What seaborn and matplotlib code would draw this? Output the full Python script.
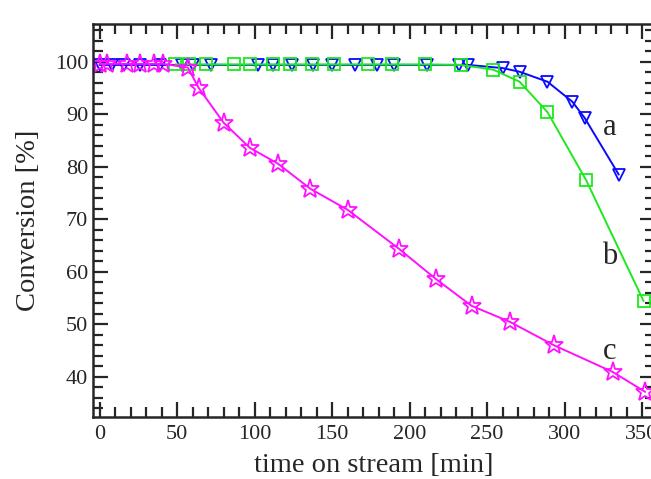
import seaborn as sns
import matplotlib.pyplot as plt
from matplotlib.ticker import MultipleLocator

sns.set_style("ticks")
plt.rcParams['font.family'] = ['Liberation Serif', 'DejaVu Serif']
plt.rcParams['mathtext.fontset'] = 'stix'

# curve a (blue triangles)
time_a = [0, 8, 16, 26, 39, 53, 60, 72, 102, 112, 124, 138, 150, 165, 179, 190, 211, 232, 238,
          260, 271, 289, 305, 313, 335]
conv_a = [99.4, 99.4, 99.4, 99.4, 99.4, 99.4, 99.4, 99.4, 99.4, 99.4, 99.4, 99.4, 99.4, 99.4, 99.4,
          99.4, 99.4, 99.4, 99.4, 98.8, 98.1, 96.2, 92.4, 89.3, 78.5]

# curve b (green squares)
time_b = [49, 58, 69, 87, 97, 112, 123, 137, 151, 173, 189, 210, 233, 254, 271, 289, 314, 351]
conv_b = [99.5, 99.5, 99.5, 99.5, 99.5, 99.5, 99.5, 99.5, 99.5, 99.5, 99.5, 99.5, 99.4,
          98.5, 96.2, 90.4, 77.4, 54.4]

# curve c (magenta stars)
time_c = [0, 5, 18, 26, 35, 41, 57, 64, 80, 97, 115, 136, 160, 193, 217, 240, 265, 293, 331, 352]
conv_c = [99.6, 99.6, 99.6, 99.6, 99.6, 99.6, 98.9, 95.0, 88.4, 83.6, 80.6, 75.8, 71.8, 64.4,
          58.6, 53.5, 50.4, 46.0, 40.9, 37.1]

curve_labels = ['a', 'b', 'c']
label_x = [329, 329, 329]
label_y = [87.5, 62.8, 44.7]

fig = plt.figure(figsize=(6.51, 4.79), dpi=100)
ax = fig.add_axes([0.1429, 0.1294, 0.8633, 0.8205])

sns.lineplot(x=time_a, y=conv_a, ax=ax, sort=False, color='#0a0aff', lw=1.4,
             marker='v', ms=9, mfc='none', mec='#0a0aff', mew=1.3)
sns.lineplot(x=time_b, y=conv_b, ax=ax, sort=False, color='#1ee81e', lw=1.4,
             marker='s', ms=8, mfc='none', mec='#1ee81e', mew=1.3)
sns.lineplot(x=time_c, y=conv_c, ax=ax, sort=False, color='#ff11ff', lw=1.4,
             marker='*', ms=14, mfc='none', mec='#ff11ff', mew=1.3)

for lab, lx, ly in zip(curve_labels, label_x, label_y):
    ax.text(lx, ly, lab, fontsize=22, ha='center', va='center')

ax.set(xlim=(-4.2, 358.4))
ax.set(ylim=(32.3, 107.2))
ax.xaxis.set_major_locator(MultipleLocator(50))
ax.xaxis.set_minor_locator(MultipleLocator(10))
ax.yaxis.set_major_locator(MultipleLocator(10))
ax.yaxis.set_minor_locator(MultipleLocator(2))
ax.set_yticks([40, 50, 60, 70, 80, 90, 100])
ax.tick_params(which='both', direction='in', top=True, right=True, width=1.6, labelsize=16)
ax.tick_params(which='major', length=11)
ax.tick_params(which='minor', length=7)
ax.tick_params(axis='x', pad=6)
for s in ax.spines.values():
    s.set_linewidth(1.8)

ax.set_xlabel("time on stream [min]", fontsize=20.5, labelpad=6)
ax.set_ylabel("Conversion [%]", fontsize=20.5, labelpad=10)
plt.savefig('out.png', dpi=100, facecolor='w')
